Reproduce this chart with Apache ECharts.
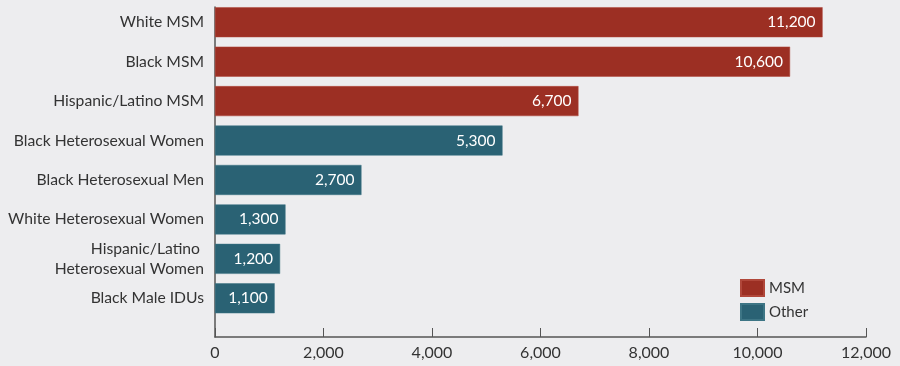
<!DOCTYPE html>
<html><head><meta charset="utf-8">
<script src="https://cdn.jsdelivr.net/npm/echarts@6/dist/echarts.min.js"></script>
<style>html,body{margin:0;padding:0;background:#ededef}#c{width:900px;height:366px}</style>
</head><body><div id="c"></div>
<script>
const categories = ['White MSM','Black MSM','Hispanic/Latino MSM','Black Heterosexual Women','Black Heterosexual Men','White Heterosexual Women','Hispanic/Latino \nHeterosexual Women','Black Male IDUs'];
const msmValues = [11200,10600,6700,'-','-','-','-','-'];
const otherValues = ['-','-','-',5300,2700,1300,1200,1100];
const xTicks = [0,2000,4000,6000,8000,10000,12000];
const FONT = 'Lato';
const chart = echarts.init(document.getElementById('c'));
const lbl = {show:true,position:'insideRight',distance:7,color:'#fff',fontFamily:FONT,fontSize:15.5,
  formatter:p=>p.value.toLocaleString('en-US')};
chart.setOption({
  backgroundColor:'#ededef',
  animation:false,
  grid:[
    {left:215,right:34,top:2.5,bottom:48},
    {left:215,right:34,top:7,bottom:29}
  ],
  legend:{orient:'vertical',left:735,top:274,itemWidth:23,itemHeight:16,itemGap:6,icon:'rect',
    textStyle:{fontFamily:FONT,fontSize:15,color:'#333'},data:['MSM','Other']},
  xAxis:[
    {gridIndex:0,type:'value',min:0,max:12000,interval:2000,show:false},
    {gridIndex:1,type:'value',min:0,max:12000,interval:2000,
      axisLine:{show:true,lineStyle:{color:'#555',width:1.5}},
      axisTick:{show:true,inside:true,length:9,lineStyle:{color:'#555'}},
      splitLine:{show:false},
      axisLabel:{fontFamily:FONT,fontSize:16,color:'#333',margin:8,formatter:v=>v.toLocaleString('en-US')}}
  ],
  yAxis:[
    {gridIndex:0,type:'category',data:categories,inverse:true,
      axisLine:{show:false},axisTick:{show:false},
      axisLabel:{fontFamily:FONT,fontSize:15.7,color:'#333',margin:11,lineHeight:20}},
    {gridIndex:1,type:'category',data:[],
      axisLine:{show:true,lineStyle:{color:'#555',width:1.5}},axisTick:{show:false},axisLabel:{show:false}}
  ],
  series:[
    {name:'MSM',type:'bar',stack:'s',xAxisIndex:0,yAxisIndex:0,data:msmValues,barWidth:30,
      itemStyle:{color:'#9c2f23',borderColor:'#b0473a',borderWidth:0.5},label:lbl},
    {name:'Other',type:'bar',stack:'s',xAxisIndex:0,yAxisIndex:0,data:otherValues,barWidth:30,
      itemStyle:{color:'#2a6274',borderColor:'#3d7585',borderWidth:0.5},label:lbl}
  ]
});
</script></body></html>
